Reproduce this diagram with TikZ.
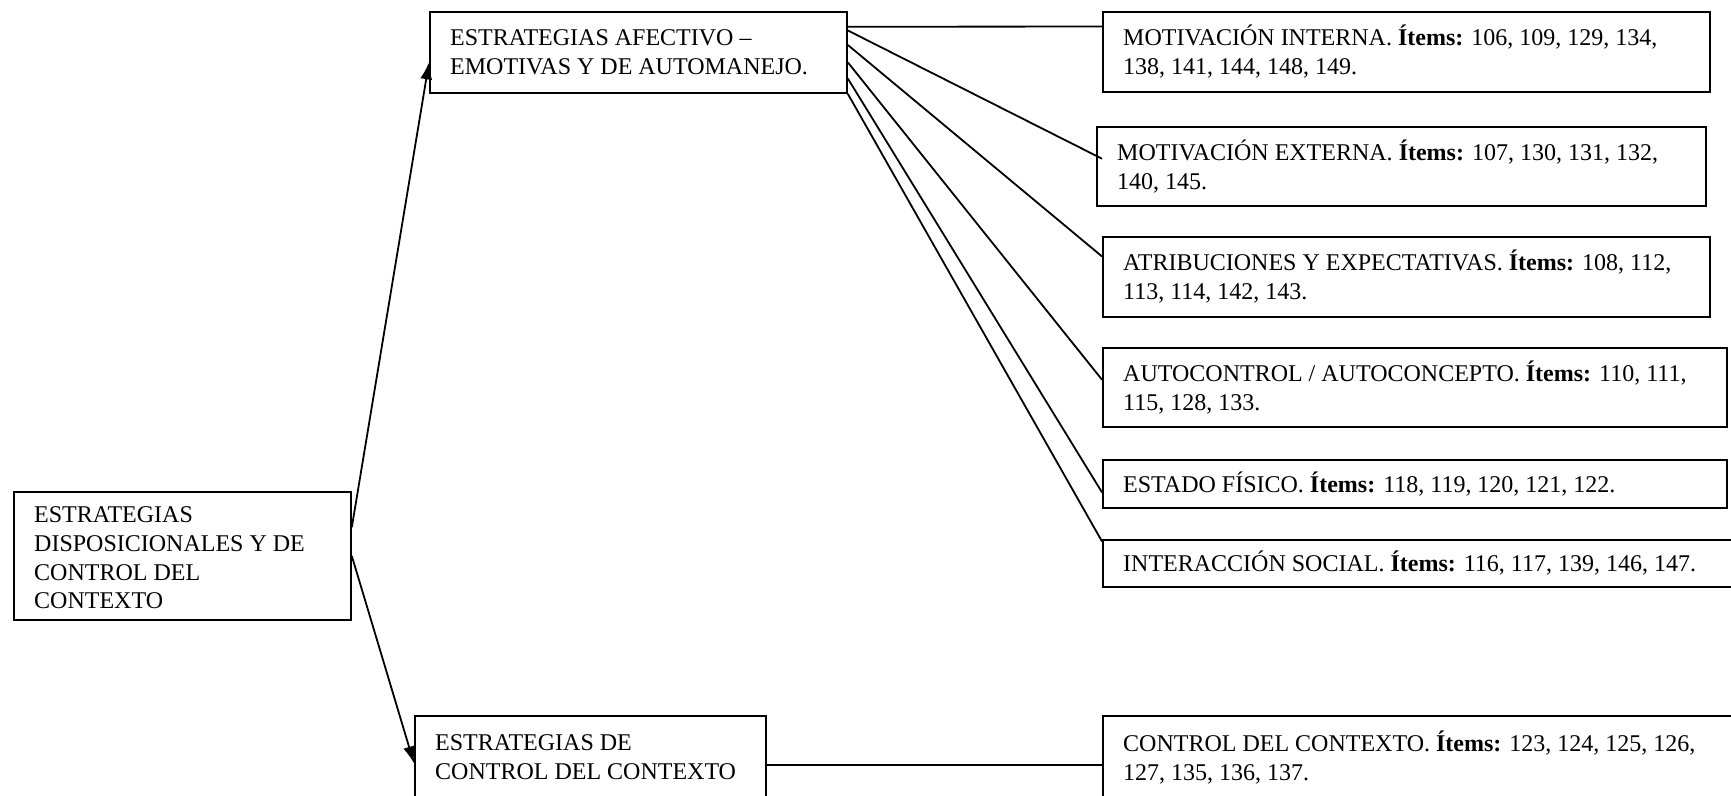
\documentclass[tikz,border=0pt]{standalone}
\usepackage{fontspec}
\setmainfont{Liberation Serif}
\usetikzlibrary{arrows.meta,calc}
\tikzset{
  box/.style={draw, line width=1.8pt, inner sep=0pt, anchor=north west},
  txt/.style={inner sep=0pt, align=left, anchor=west, font=\fontsize{24}{28.8}\selectfont},
  ln/.style={line width=1.8pt},
  arr/.style={line width=1.8pt, -{Latex[length=17pt,width=12pt]}}
}
\begin{document}
\begin{tikzpicture}[x=1pt,y=-1pt]
\useasboundingbox (0,0) rectangle (1731,795);
\clip (0,0) rectangle (1731,795);
\fill[white] (0,0) rectangle (1731,795);
% boxes
\node[box, minimum width=337pt, minimum height=128pt] (root) at (13,491) {};
\node[box, minimum width=417pt, minimum height=81pt] (aff) at (429,11) {};
\node[box, minimum width=351pt, minimum height=83pt] (ctl) at (414,715) {};
\node[box, minimum width=607pt, minimum height=80pt] (mi) at (1102,11) {};
\node[box, minimum width=609pt, minimum height=79pt] (me) at (1096,126) {};
\node[box, minimum width=607pt, minimum height=80pt] (ae) at (1102,236) {};
\node[box, minimum width=624pt, minimum height=79pt] (ac) at (1102,347) {};
\node[box, minimum width=624pt, minimum height=48pt] (ef) at (1102,459) {};
\node[box, minimum width=640pt, minimum height=47pt] (is) at (1102,539) {};
\node[box, minimum width=640pt, minimum height=83pt] (cc) at (1102,715) {};
% texts
\node[txt] (roott) at ([xshift=21pt,yshift=-2pt]root.west) {ESTRATEGIAS\\DISPOSICIONALES Y DE\\CONTROL DEL\\CONTEXTO};
\node[txt] (afft) at ([xshift=21pt]aff.west) {ESTRATEGIAS AFECTIVO --\\EMOTIVAS Y DE AUTOMANEJO.};
\node[txt] (ctlt) at ([xshift=21pt]ctl.west) {ESTRATEGIAS DE\\CONTROL DEL CONTEXTO};
\node[txt] (mit) at ([xshift=21pt]mi.west) {MOTIVACIÓN INTERNA. \textbf{Ítems:} 106, 109, 129, 134,\\138, 141, 144, 148, 149.};
\node[txt] (met) at ([xshift=21pt]me.west) {MOTIVACIÓN EXTERNA. \textbf{Ítems:} 107, 130, 131, 132,\\140, 145.};
\node[txt] (aet) at ([xshift=21pt]ae.west) {ATRIBUCIONES Y EXPECTATIVAS. \textbf{Ítems:} 108, 112,\\113, 114, 142, 143.};
\node[txt] (act) at ([xshift=21pt]ac.west) {AUTOCONTROL / AUTOCONCEPTO. \textbf{Ítems:} 110, 111,\\115, 128, 133.};
\node[txt] (eft) at ([xshift=21pt]ef.west) {ESTADO FÍSICO. \textbf{Ítems:} 118, 119, 120, 121, 122.};
\node[txt] (ist) at ([xshift=21pt]is.west) {INTERACCIÓN SOCIAL. \textbf{Ítems:} 116, 117, 139, 146, 147.};
\node[txt] (cct) at ([xshift=21pt]cc.west) {CONTROL DEL CONTEXTO. \textbf{Ítems:} 123, 124, 125, 126,\\127, 135, 136, 137.};
% connectors
\draw[arr] ($(root.north east)!0.28!(root.south east)$) -- ($(aff.north west)!0.62!(aff.south west)$);
\draw[arr] (root.east) -- ($(ctl.north west)!0.57!(ctl.south west)$);
\draw[ln] ($(aff.north east)!0.19!(aff.south east)$) -- ($(mi.north west)!0.19!(mi.south west)$);
\draw[ln] ($(aff.north east)!0.235!(aff.south east)$) -- ($(me.north west)!0.405!(me.south west)+(6,0)$);
\draw[ln] ($(aff.north east)!0.41!(aff.south east)$) -- ($(ae.north west)!0.25!(ae.south west)$);
\draw[ln] ($(aff.north east)!0.62!(aff.south east)$) -- ($(ac.north west)!0.405!(ac.south west)$);
\draw[ln] ($(aff.north east)!0.815!(aff.south east)$) -- ($(ef.north west)!0.67!(ef.south west)$);
\draw[ln] (aff.south east) -- ($(is.north west)!0.05!(is.south west)$);
\draw[ln] ($(ctl.north east)!0.585!(ctl.south east)$) -- ($(cc.north west)!0.585!(cc.south west)$);
\end{tikzpicture}
\end{document}
